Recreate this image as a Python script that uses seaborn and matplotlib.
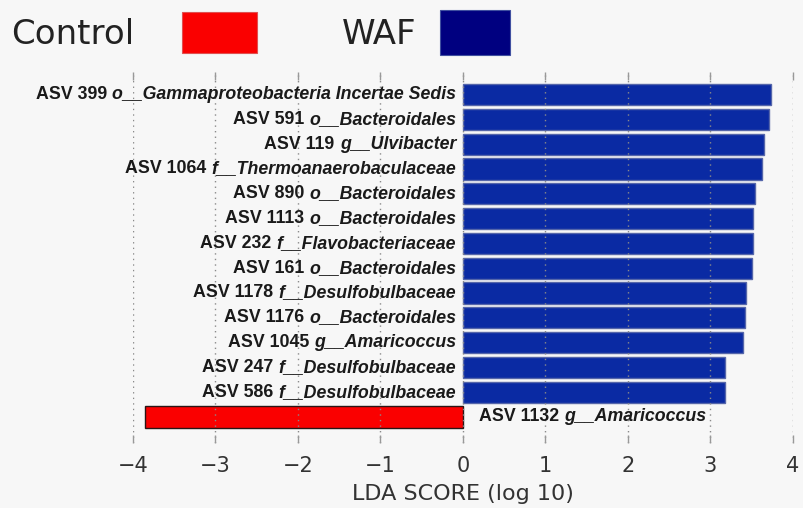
import matplotlib
matplotlib.use("Agg")
import matplotlib.pyplot as plt
from matplotlib.patches import Rectangle
import seaborn as sns
import pandas as pd

# LDA effect sizes for the discriminant ASVs
asv_ids = ["ASV 399", "ASV 591", "ASV 119", "ASV 1064", "ASV 890", "ASV 1113",
           "ASV 232", "ASV 161", "ASV 1178", "ASV 1176", "ASV 1045", "ASV 247",
           "ASV 586", "ASV 1132"]
taxa = ["o__Gammaproteobacteria Incertae Sedis", "o__Bacteroidales", "g__Ulvibacter",
        "f__Thermoanaerobaculaceae", "o__Bacteroidales", "o__Bacteroidales",
        "f__Flavobacteriaceae", "o__Bacteroidales", "f__Desulfobulbaceae",
        "o__Bacteroidales", "g__Amaricoccus", "f__Desulfobulbaceae",
        "f__Desulfobulbaceae", "g__Amaricoccus"]
lda_scores = [3.73, 3.71, 3.65, 3.63, 3.54, 3.52, 3.52, 3.50, 3.43, 3.42,
              3.39, 3.18, 3.17, -3.85]
groups = ["WAF"] * 13 + ["Control"]
group_order = ["Control", "WAF"]
x_ticks = [-4, -3, -2, -1, 0, 1, 2, 3, 4]

df = pd.DataFrame({"feature": [f"{a} {t}" for a, t in zip(asv_ids, taxa)],
                   "asv": asv_ids, "taxon": taxa,
                   "score": lda_scores, "group": groups})

bar_palette = {"Control": "#fa0000", "WAF": "#0a2aa3"}
legend_colors = {"Control": "#fa0000", "WAF": "#000080"}
bg = "#f7f7f7"

sns.set_theme(style="white")
plt.rcParams["font.family"] = ["DejaVu Sans"]

fig = plt.figure(figsize=(8.04, 5.08), dpi=100, facecolor=bg)
ax = fig.add_axes([133 / 804, 1 - 443 / 508, 660 / 804, 371 / 508], facecolor=bg)

sns.barplot(data=df, x="score", y="feature", hue="group", hue_order=group_order,
            palette=bar_palette, saturation=1, dodge=False, width=0.85,
            orient="h", legend=False, ax=ax)

for patch in ax.patches:
    fc = patch.get_facecolor()
    if fc[0] > 0.5:
        patch.set_edgecolor("#2a1515")
    else:
        patch.set_edgecolor("#5566aa")
    patch.set_linewidth(1.0)
    patch.set_zorder(1)

ax.set_xlim(-4.0, 4.0)
ax.set_ylim(14.05, -0.91)
ax.set_xticks(x_ticks)
ax.set_xticklabels([f"{t}".replace("-", "\u2212") for t in x_ticks], fontsize=15,
                   color="#333333")
ax.set_yticks([])
ax.set_ylabel("")
ax.set_xlabel("LDA SCORE (log 10)", fontsize=16, color="#333333", labelpad=6)
ax.tick_params(axis="x", direction="in", length=6, width=1, color="#999999",
               top=True, bottom=True, pad=9)
ax.xaxis.grid(True, linestyle=(0, (1, 3)), color="#8a8a8a", linewidth=1)
ax.set_axisbelow(False)
for s in ax.spines.values():
    s.set_visible(False)

# Feature labels: ASV id upright bold, taxon bold italic
lab_font = "Liberation Sans"
lab_size = 12.8
for i, row in df.iterrows():
    if row["score"] >= 0:
        t = ax.text(-0.085, i, row["taxon"], ha="right", va="center",
                    fontsize=lab_size, fontweight="bold", style="italic",
                    family=lab_font, color="#1a1a1a", zorder=5)
        ax.annotate(row["asv"] + " ", xy=(0, 0.5), xycoords=t, ha="right",
                    va="center", fontsize=lab_size, fontweight="bold",
                    family=lab_font, color="#1a1a1a", zorder=5)
    else:
        a = ax.text(0.19, i, row["asv"] + " ", ha="left", va="center",
                    fontsize=lab_size, fontweight="bold", family=lab_font,
                    color="#1a1a1a", zorder=5)
        ax.annotate(row["taxon"], xy=(1, 0.5), xycoords=a, ha="left",
                    va="center", fontsize=lab_size, fontweight="bold",
                    style="italic", family=lab_font, color="#1a1a1a", zorder=5)

# Group legend across the top
W, H = 804, 508
def fx(px):
    return px / W
def fy(py):
    return 1 - py / H

fig.text(fx(11), fy(34), "Control", fontsize=24.5, color="#222222",
         ha="left", va="center")
fig.add_artist(Rectangle((fx(182), fy(53)), fx(75), 41 / H,
                         transform=fig.transFigure, facecolor=legend_colors["Control"],
                         edgecolor="#e05050", linewidth=0.8))
fig.text(fx(342), fy(34), "WAF", fontsize=24.5, color="#222222",
         ha="left", va="center")
fig.add_artist(Rectangle((fx(440), fy(55)), fx(70), 45 / H,
                         transform=fig.transFigure, facecolor=legend_colors["WAF"],
                         edgecolor="#4050a0", linewidth=0.8))

fig.savefig("out.png", dpi=100, facecolor=bg)
